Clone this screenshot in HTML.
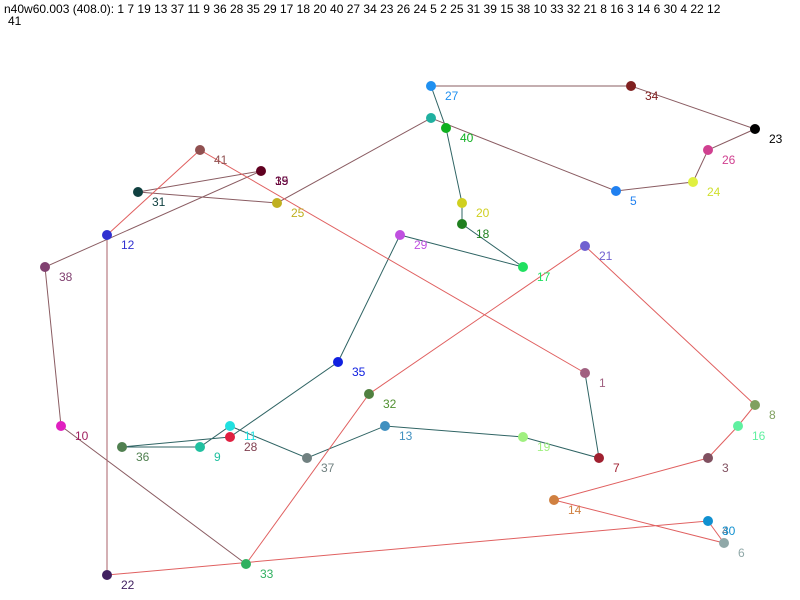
<!DOCTYPE html>
<html><head><meta charset="utf-8"><style>
html,body{margin:0;padding:0;background:#fff;width:800px;height:600px;overflow:hidden}
svg{display:block}
text{font-family:"Liberation Sans",sans-serif;font-size:12px}
</style></head><body>
<svg width="800" height="600" xmlns="http://www.w3.org/2000/svg">
<text x="4" y="13" fill="#000">n40w60.003 (408.0): 1 7 19 13 37 11 9 36 28 35 29 17 18 20 40 27 34 23 26 24 5 2 25 31 39 15 38 10 33 32 21 8 16 3 14 6 30 4 22 12</text>
<text x="8" y="25" fill="#000">41</text>
<g fill="none" stroke-width="1">
<polyline stroke="#2f6464" points="585,373 599,458 523,437 385,426 307,458 230,426 200,447 122,447 230,437 338,362 400,235 523,267 462,224 462,203 446,128 431,86"/>
<polyline stroke="#8a5c62" points="431,86 631,86 755,129 708,150 693,182 616,191 431,118 277,203 138,192 261,171 261,171 45,267 61,426 246,564"/>
<polyline stroke="#e06060" points="246,564 369,394 585,246 755,405 738,426 708,458 554,500 724,543 708,521 708,521 107,575"/>
<polyline stroke="#a86068" points="107,575 107,235"/>
<polyline stroke="#e06060" points="107,235 200,150 585,373"/>
</g>
<g>
<circle cx="585" cy="373" r="5" fill="#a06080"/><text x="599" y="387" fill="#a06080">1</text>
<circle cx="599" cy="458" r="5" fill="#a02030"/><text x="613" y="472" fill="#a02030">7</text>
<circle cx="523" cy="437" r="5" fill="#a0f080"/><text x="537" y="451" fill="#a0f080">19</text>
<circle cx="385" cy="426" r="5" fill="#4090c0"/><text x="399" y="440" fill="#4090c0">13</text>
<circle cx="307" cy="458" r="5" fill="#708080"/><text x="321" y="472" fill="#708080">37</text>
<circle cx="230" cy="426" r="5" fill="#20e0e0"/><text x="244" y="440" fill="#20e0e0">11</text>
<circle cx="200" cy="447" r="5" fill="#20c0a0"/><text x="214" y="461" fill="#20c0a0">9</text>
<circle cx="122" cy="447" r="5" fill="#508050"/><text x="136" y="461" fill="#508050">36</text>
<circle cx="230" cy="437" r="5" fill="#e02040"/><text x="244" y="451" fill="#804050">28</text>
<circle cx="338" cy="362" r="5" fill="#1020e0"/><text x="352" y="376" fill="#1020e0">35</text>
<circle cx="400" cy="235" r="5" fill="#c050e0"/><text x="414" y="249" fill="#c050e0">29</text>
<circle cx="523" cy="267" r="5" fill="#20e060"/><text x="537" y="281" fill="#20e060">17</text>
<circle cx="462" cy="224" r="5" fill="#208020"/><text x="476" y="238" fill="#208020">18</text>
<circle cx="462" cy="203" r="5" fill="#d0d020"/><text x="476" y="217" fill="#d0d020">20</text>
<circle cx="431" cy="118" r="5" fill="#20b0a0"/>
<circle cx="446" cy="128" r="5" fill="#10b020"/><text x="460" y="142" fill="#10b020">40</text>
<circle cx="431" cy="86" r="5" fill="#2090f0"/><text x="445" y="100" fill="#2090f0">27</text>
<circle cx="631" cy="86" r="5" fill="#802020"/><text x="645" y="100" fill="#802020">34</text>
<circle cx="755" cy="129" r="5" fill="#000"/><text x="769" y="143" fill="#000">23</text>
<circle cx="708" cy="150" r="5" fill="#d04090"/><text x="722" y="164" fill="#d04090">26</text>
<circle cx="693" cy="182" r="5" fill="#e0f040"/><text x="707" y="196" fill="#d0e030">24</text>
<circle cx="616" cy="191" r="5" fill="#2080f0"/><text x="630" y="205" fill="#2080f0">5</text>
<circle cx="277" cy="203" r="5" fill="#c0b020"/><text x="291" y="217" fill="#c0b020">25</text>
<circle cx="138" cy="192" r="5" fill="#104040"/><text x="152" y="206" fill="#104040">31</text>
<circle cx="261" cy="171" r="5" fill="#600020"/><text x="275" y="185" fill="#802040">15</text><text x="275" y="185" fill="#600040">39</text>
<circle cx="45" cy="267" r="5" fill="#804070"/><text x="59" y="281" fill="#804070">38</text>
<circle cx="61" cy="426" r="5" fill="#e020c0"/><text x="75" y="440" fill="#a02060">10</text>
<circle cx="246" cy="564" r="5" fill="#30b060"/><text x="260" y="578" fill="#30b060">33</text>
<circle cx="369" cy="394" r="5" fill="#508040"/><text x="383" y="408" fill="#509030">32</text>
<circle cx="585" cy="246" r="5" fill="#7060d0"/><text x="599" y="260" fill="#7060d0">21</text>
<circle cx="755" cy="405" r="5" fill="#80a060"/><text x="769" y="419" fill="#80a060">8</text>
<circle cx="738" cy="426" r="5" fill="#60f0a0"/><text x="752" y="440" fill="#60f0a0">16</text>
<circle cx="708" cy="458" r="5" fill="#805060"/><text x="722" y="472" fill="#805060">3</text>
<circle cx="554" cy="500" r="5" fill="#d08040"/><text x="568" y="514" fill="#d08040">14</text>
<circle cx="724" cy="543" r="5" fill="#90a8a8"/><text x="738" y="557" fill="#90a8a8">6</text>
<circle cx="708" cy="521" r="5" fill="#1090d0"/><text x="722" y="535" fill="#708090">4</text><text x="722" y="535" fill="#1090d0">30</text>
<circle cx="107" cy="575" r="5" fill="#402060"/><text x="121" y="589" fill="#402060">22</text>
<circle cx="107" cy="235" r="5" fill="#3030d0"/><text x="121" y="249" fill="#3030d0">12</text>
<circle cx="200" cy="150" r="5" fill="#905050"/><text x="214" y="164" fill="#905050">41</text>
</g>
</svg>
</body></html>
